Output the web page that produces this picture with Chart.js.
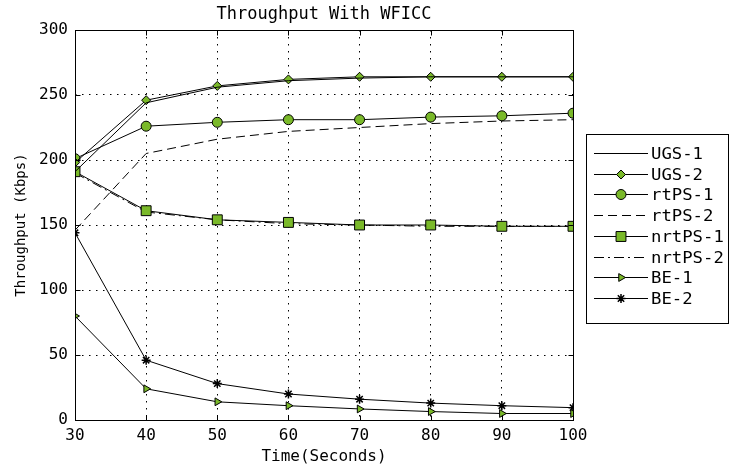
<!DOCTYPE html>
<html><head><meta charset="utf-8">
<script src="https://cdn.jsdelivr.net/npm/chart.js@4/dist/chart.umd.min.js"></script>
<style>html,body{margin:0;padding:0;background:#fff}#wrap{width:731px;height:467px}</style>
</head><body><div id="wrap"><canvas id="c" width="731" height="467"></canvas></div>
<script>
const times = [30, 40, 50, 60, 70, 80, 90, 100];
const ugs1 = [191, 244, 256, 261, 263, 264, 264, 264];
const ugs2 = [198, 246, 257, 262, 264, 264, 264, 264];
const rtps1 = [201, 226, 229, 231, 231, 233, 234, 236];
const rtps2 = [146, 205, 216, 222, 225, 228, 230, 231];
const nrtps1 = [191, 161, 154, 152, 150, 150, 149, 149];
const nrtps2 = [190, 160, 154, 151, 150, 149, 149, 149];
const be1 = [80, 24, 14, 11, 8.5, 6.5, 5, 5];
const be2 = [144, 46, 28, 20, 16, 13, 11, 9.5];
const seriesNames = ['UGS-1', 'UGS-2', 'rtPS-1', 'rtPS-2', 'nrtPS-1', 'nrtPS-2', 'BE-1', 'BE-2'];
const xTicks = [30, 40, 50, 60, 70, 80, 90, 100];
const yTicks = [0, 50, 100, 150, 200, 250, 300];

const GREEN = '#7ab929';
const FONT = "'DejaVu Sans Mono', 'Liberation Mono', monospace";
const pts = vals => times.map((t, i) => ({x: t, y: vals[i]}));

function ds(label, vals, extra) {
  return Object.assign({
    label, data: pts(vals), borderColor: '#000', borderWidth: 1, backgroundColor: GREEN,
    pointRadius: 0, pointHoverRadius: 0, pointBorderColor: '#000', pointBackgroundColor: GREEN,
    pointBorderWidth: 1, tension: 0, fill: false
  }, extra || {});
}

const datasets = [
  ds(seriesNames[0], ugs1),
  ds(seriesNames[1], ugs2, {pointStyle: 'rectRot', pointRadius: 4.5}),
  ds(seriesNames[2], rtps1, {pointStyle: 'circle', pointRadius: 5}),
  ds(seriesNames[3], rtps2, {borderDash: [9, 5]}),
  ds(seriesNames[4], nrtps1, {pointStyle: 'rect', pointRadius: 7}),
  ds(seriesNames[5], nrtps2, {borderDash: [10, 4, 2, 4]}),
  ds(seriesNames[6], be1, {pointStyle: 'triangle', pointRotation: 90, pointRadius: 4.5}),
  ds(seriesNames[7], be2, {pointStyle: 'star', pointRadius: 4.5, pointBorderWidth: 1.5})
];

const framePlugin = {
  id: 'frameLegend',
  afterDraw(chart) {
    const ctx = chart.ctx, a = chart.chartArea;
    const xs = chart.scales.x, ys = chart.scales.y;
    ctx.save();
    ctx.strokeStyle = '#000'; ctx.lineWidth = 1; ctx.setLineDash([]);
    const L = Math.round(a.left) + 0.5, R = Math.round(a.right) + 0.5;
    const T = Math.round(a.top) + 0.5, B = Math.round(a.bottom) + 0.5;
    ctx.strokeRect(L, T, R - L, B - T);
    ctx.beginPath();
    xs.ticks.forEach(t => {
      const px = Math.round(xs.getPixelForValue(t.value)) + 0.5;
      ctx.moveTo(px, B); ctx.lineTo(px, B - 5);
      ctx.moveTo(px, T); ctx.lineTo(px, T + 5);
    });
    ys.ticks.forEach(t => {
      const py = Math.round(ys.getPixelForValue(t.value)) + 0.5;
      ctx.moveTo(L, py); ctx.lineTo(L + 5, py);
      ctx.moveTo(R, py); ctx.lineTo(R - 5, py);
    });
    ctx.stroke();

    // legend box
    const bx = 586.5, by = 134.5, bw = 142, bh = 189;
    ctx.fillStyle = '#fff';
    ctx.fillRect(bx, by, bw, bh);
    ctx.strokeRect(bx, by, bw, bh);
    chart.data.datasets.forEach((d, i) => {
      const cy = Math.round(153 + i * 20.7) + 0.5;
      ctx.save();
      ctx.setLineDash(d.borderDash || []);
      ctx.strokeStyle = '#000'; ctx.lineWidth = 1;
      ctx.beginPath(); ctx.moveTo(594, cy); ctx.lineTo(648, cy); ctx.stroke();
      ctx.restore();
      if (d.pointRadius > 0) {
        ctx.save();
        ctx.setLineDash([]);
        ctx.fillStyle = d.pointBackgroundColor; ctx.strokeStyle = d.pointBorderColor;
        ctx.lineWidth = d.pointBorderWidth;
        if (Chart.helpers && Chart.helpers.drawPoint) {
          Chart.helpers.drawPoint(ctx, {pointStyle: d.pointStyle, rotation: d.pointRotation || 0,
            borderWidth: d.pointBorderWidth, radius: d.pointRadius}, 621, cy);
        } else {
          ctx.beginPath(); ctx.arc(621, cy, 4, 0, Math.PI * 2); ctx.fill(); ctx.stroke();
        }
        ctx.restore();
      }
      ctx.save();
      ctx.fillStyle = '#000';
      ctx.font = "16px " + FONT;
      ctx.textBaseline = 'middle';
      ctx.translate(651, cy + 1);
      ctx.scale(1.08, 1);
      ctx.fillText(d.label, 0, 0);
      ctx.restore();
    });
    ctx.restore();
  }
};

new Chart(document.getElementById('c'), {
  type: 'line',
  data: {datasets},
  options: {
    responsive: false, animation: false, devicePixelRatio: 1,
    layout: {padding: {left: 0, right: 158, top: 0, bottom: 0}},
    plugins: {
      legend: {display: false}, tooltip: {enabled: false},
      title: {display: true, fullSize: false, text: 'Throughput With WFICC', color: '#000',
        font: {family: FONT, size: 17, weight: 'normal'}, padding: {top: 4.8, bottom: 4.8}}
    },
    scales: {
      x: {
        type: 'linear', min: 30, max: 100,
        afterBuildTicks: s => { s.ticks = xTicks.map(v => ({value: v})); },
        afterFit: s => { s.height = 47; },
        ticks: {color: '#000', font: {family: FONT, size: 16}, padding: 6.4, autoSkip: false, maxRotation: 0},
        grid: {color: '#000', lineWidth: 1, drawTicks: false},
        border: {display: false, dash: [1.5, 5.5]},
        title: {display: true, text: 'Time(Seconds)', color: '#000', font: {family: FONT, size: 16}, padding: {top: 0, bottom: 0.4}}
      },
      y: {
        min: 0, max: 300,
        afterBuildTicks: s => { s.ticks = yTicks.map(v => ({value: v})); },
        afterFit: s => { s.width = 75; },
        ticks: {color: '#000', font: {family: FONT, size: 16}, padding: 7},
        grid: {color: '#000', lineWidth: 1, drawTicks: false},
        border: {display: false, dash: [1.5, 5.5]},
        title: {display: true, text: 'Throughput (Kbps)', color: '#000', font: {family: FONT, size: 14}, padding: {top: 12.6, bottom: 0}}
      }
    }
  },
  plugins: [framePlugin]
});
</script></body></html>
